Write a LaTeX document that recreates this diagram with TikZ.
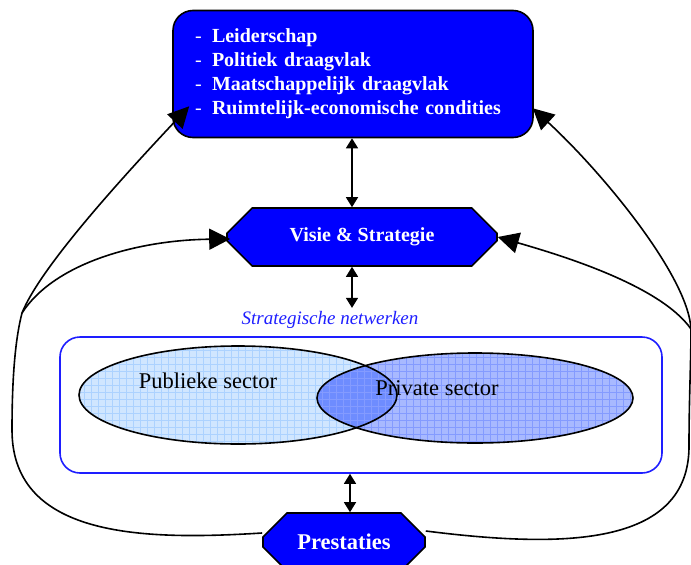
\documentclass[tikz,border=0pt]{standalone}
\usepackage{fontspec}
\setmainfont{Liberation Serif}
\usepackage{xcolor}
\usetikzlibrary{shapes.misc,arrows.meta,calc,positioning}
\definecolor{kernblue}{RGB}{0,0,255}
\definecolor{netblue}{RGB}{30,30,255}
\definecolor{publiekfill}{RGB}{208,230,255}
\definecolor{publiekgrid}{RGB}{172,210,255}
\definecolor{privatefill}{RGB}{168,185,255}
\definecolor{privategrid}{RGB}{132,155,255}
\definecolor{overlapfill}{RGB}{110,140,255}

\begin{document}
\begin{tikzpicture}[x=1pt,y=-1pt,
    bluebox/.style={fill=kernblue, draw=black, line width=1.6pt, text=white,
        font=\fontsize{20}{24}\selectfont\bfseries},
    octbox/.style={bluebox, chamfered rectangle, chamfered rectangle xsep=16pt,
        chamfered rectangle ysep=16pt, inner sep=0pt},
    dblarrow/.style={{Triangle[length=10pt,width=12pt]}-{Triangle[length=10pt,width=12pt]}, line width=1.4pt},
    feedback/.style={-{Triangle[length=21pt,width=21pt]}, line width=1.6pt},
    lowerloop/.style={line width=1.6pt},
    sectortext/.style={font=\fontsize{22.5}{26}\selectfont}]
    \useasboundingbox (0,0) rectangle (691,565);

    % kern: voorwaarden
    \node[bluebox, rounded corners=20pt, minimum width=360pt, minimum height=127pt,
        text width=316pt, align=left] (kern) at (353,74)
        {\makebox[17pt][l]{\mdseries -}Leiderschap\\
         \makebox[17pt][l]{\mdseries -}Politiek draagvlak\\
         \makebox[17pt][l]{\mdseries -}Maatschappelijk draagvlak\\
         \makebox[17pt][l]{\mdseries -}Ruimtelijk-economische condities};

    \node[octbox, minimum width=270pt, minimum height=58pt] (visie) at (362,237) {Visie \& Strategie};

    % netwerk
    \node[draw=netblue, line width=1.6pt, rounded corners=20pt, minimum width=602pt,
        minimum height=136pt] (netw) at (361,405) {};
    \node[text=netblue, font=\fontsize{19}{22}\selectfont\itshape] (netlabel) at (330,320) {Strategische netwerken};

    % publieke sector
    \begin{scope}
        \clip (238,395) ellipse [x radius=159, y radius=49];
        \fill[publiekfill] (70,340) rectangle (400,450);
        \draw[publiekgrid, line width=0.5pt, step=7pt] (70,340) grid (400,450);
    \end{scope}
    % private sector
    \begin{scope}
        \clip (475,398) ellipse [x radius=158, y radius=45];
        \fill[privatefill] (310,350) rectangle (640,450);
        \begin{scope}
            \clip (238,395) ellipse [x radius=159, y radius=49];
            \fill[overlapfill] (310,350) rectangle (640,450);
        \end{scope}
        \draw[privategrid, line width=0.5pt, step=7pt] (310,350) grid (640,450);
    \end{scope}
    \draw[line width=1.6pt] (238,395) ellipse [x radius=159, y radius=49];
    \draw[line width=1.6pt] (475,398) ellipse [x radius=158, y radius=45];
    \node[sectortext] (publiek) at (208,381) {Publieke sector};
    \node[sectortext] (private) at (437,388) {Private sector};

    \node[octbox, minimum width=162pt, minimum height=58pt,
        font=\fontsize{22.5}{27}\selectfont\bfseries] (pres) at (344,542) {Prestaties};

    % verbindingen
    \draw[dblarrow] ([xshift=-1pt]kern.south) -- ([xshift=-1pt]kern.south |- visie.north);
    \draw[dblarrow] ([xshift=-1pt]kern.south |- visie.south) -- ([xshift=-1pt]kern.south |- netlabel.north);
    \draw[dblarrow] ([xshift=6pt]pres.north |- netw.south) -- ([xshift=6pt]pres.north);

    % terugkoppeling
    \coordinate (lj) at (22,313);
    \coordinate (lmid) at (12,430);
    \coordinate (rj) at (691,329);
    \coordinate (rmid) at (689,445);

    \draw[lowerloop] ([yshift=9pt]pres.west) .. controls (150,540) and (12,540) .. (lmid)
        .. controls (12,380) and (15,340) .. (lj);
    \draw[lowerloop] ([yshift=11pt]pres.east) .. controls (560,548) and (690,548) .. (rmid)
        .. controls (689,400) and (691,360) .. (rj);

    \draw[feedback] (lj) .. controls (40,268) and (120,180) .. ([xshift=17pt,yshift=32pt]kern.south west);
    \draw[feedback] (lj) .. controls (55,262) and (140,240) .. ([xshift=4pt,yshift=-2pt]visie.west);
    \draw[feedback] (rj) .. controls (688,275) and (600,170) .. ([xshift=-1pt,yshift=30pt]kern.south east);
    \draw[feedback] (rj) .. controls (660,285) and (560,255) .. (visie.east);
\end{tikzpicture}
\end{document}
